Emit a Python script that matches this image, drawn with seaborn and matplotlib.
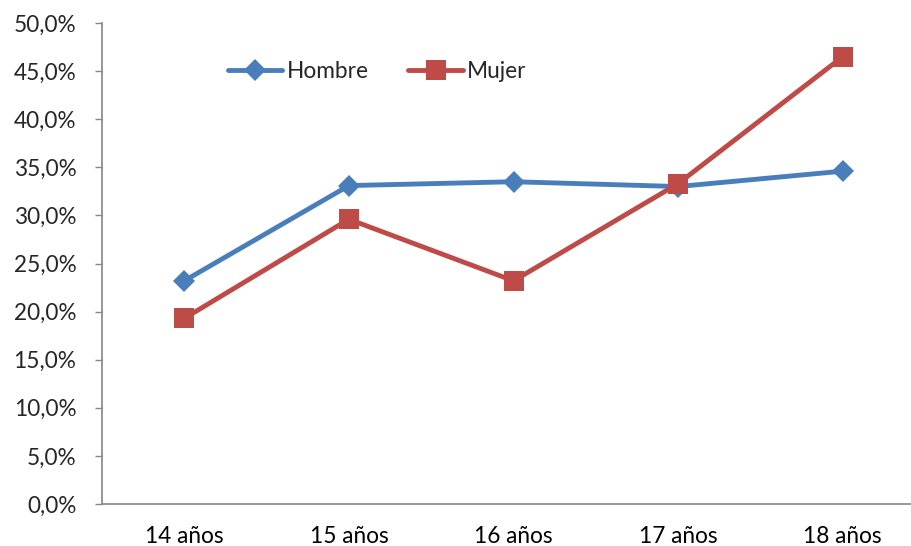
import matplotlib
matplotlib.use("Agg")
import matplotlib.pyplot as plt
from matplotlib.ticker import FixedLocator, FuncFormatter
from matplotlib.lines import Line2D
import pandas as pd
import seaborn as sns

categories = ["14 años", "15 años", "16 años", "17 años", "18 años"]
hombre = [23.2, 33.1, 33.5, 33.0, 34.6]
mujer = [19.3, 29.6, 23.2, 33.3, 46.5]
series_names = ["Hombre", "Mujer"]
colors = {"Hombre": "#4A7EBB", "Mujer": "#BE4B48"}
markers = {"Hombre": "D", "Mujer": "s"}
marker_sizes = {"Hombre": 11, "Mujer": 15}

df = pd.DataFrame({
    "edad": categories * 2,
    "valor": hombre + mujer,
    "sexo": [series_names[0]] * len(categories) + [series_names[1]] * len(categories),
})

sns.set_style("white")
plt.rcParams["font.family"] = ["Lato", "DejaVu Sans"]
FS = 16.3

fig = plt.figure(figsize=(9.12, 5.46), dpi=100)
ax = fig.add_axes([102 / 912, 42 / 546, 823 / 912, 481 / 546])

sns.lineplot(data=df, x="edad", y="valor", hue="sexo", style="sexo",
             palette=colors, markers=markers, dashes=False, linewidth=3.5,
             markersize=11, markeredgewidth=0, ax=ax, legend=False, sort=False)
for line in ax.lines:
    if line.get_marker() == "s":
        line.set_markersize(marker_sizes["Mujer"])

ax.set_xlim(-0.5, len(categories) - 0.5)
ax.set_ylim(0, 50)
ax.set_xlabel("")
ax.set_ylabel("")

# y axis: 5 % steps with comma decimal
ax.yaxis.set_major_locator(FixedLocator([i * 5 for i in range(11)]))
ax.yaxis.set_major_formatter(FuncFormatter(lambda v, p: f"{v:.1f}%".replace(".", ",")))

# x axis: labels centred, tick marks at category boundaries
ax.set_xticks(range(len(categories)))
ax.set_xticklabels(categories)
ax.set_xticks([i - 0.5 for i in range(len(categories) + 1)], minor=True)
ax.tick_params(axis="x", which="major", length=0, pad=16, labelsize=FS, colors="#000000")
ax.tick_params(axis="x", which="minor", length=5, width=1, color="#868686", direction="out")
ax.tick_params(axis="y", which="major", length=5, width=1, color="#868686", direction="out",
               labelsize=FS, pad=13.5, left=True)

for side in ["top", "right"]:
    ax.spines[side].set_visible(False)
for side in ["left", "bottom"]:
    ax.spines[side].set_color("#868686")
    ax.spines[side].set_linewidth(1.2)

handles = [Line2D([], [], color=colors[n], marker=markers[n], linewidth=3.5,
                  markersize=marker_sizes[n], markeredgewidth=0)
           for n in series_names]
ax.legend(handles, series_names, loc="center left", bbox_to_anchor=(0.153, 0.900),
          ncol=2, frameon=False, fontsize=FS, handlelength=2.4, handletextpad=0.2,
          columnspacing=1.75, borderpad=0, borderaxespad=0)

fig.savefig("out.png", dpi=100)
